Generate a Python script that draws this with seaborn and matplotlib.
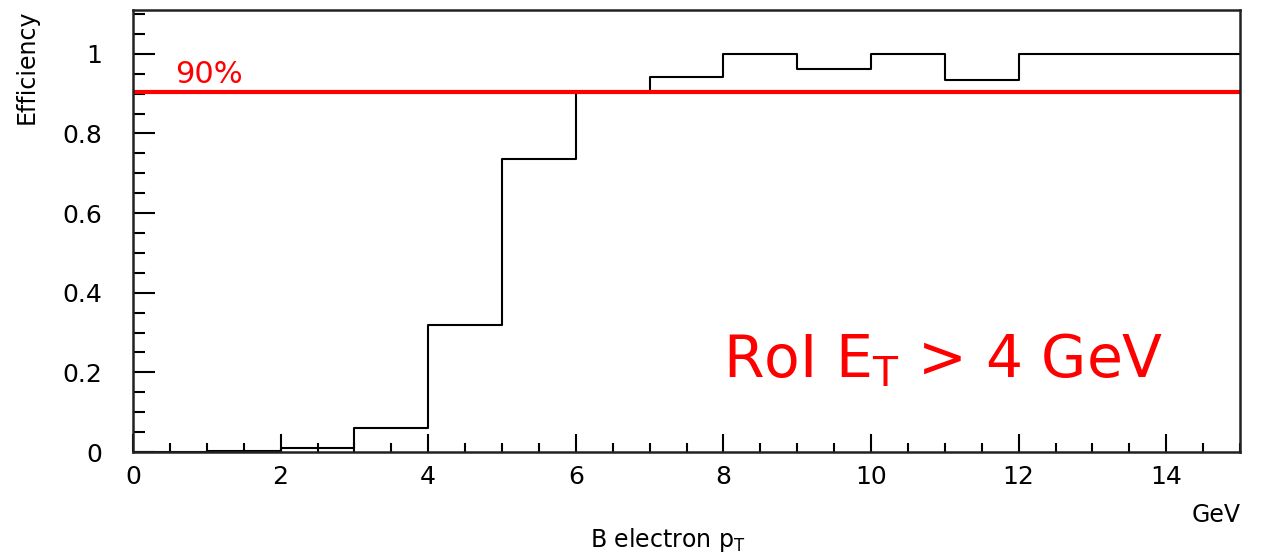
import numpy as np
import pandas as pd
import matplotlib
matplotlib.use('Agg')
import matplotlib.pyplot as plt
import seaborn as sns
from matplotlib.ticker import MultipleLocator

# bin edges (GeV) and efficiency per bin
bin_edges = [0, 1, 2, 3, 4, 5, 6, 7, 8, 9, 10, 11, 12, 13, 14, 15]
efficiency = [0.0, 0.003, 0.01, 0.06, 0.32, 0.735, 0.905, 0.942, 1.0, 0.963, 1.0, 0.935, 1.0, 1.0, 1.0]
threshold = 0.905

sns.set_style('ticks')
plt.rcParams['font.family'] = ['DejaVu Sans']
plt.rcParams['mathtext.default'] = 'regular'

df = pd.DataFrame({'pt': np.array(bin_edges[:-1]) + 0.5, 'eff': efficiency})

fig = plt.figure(figsize=(12.61, 5.53), dpi=100)
ax = fig.add_axes([133 / 1261, 1 - 452 / 553, (1240 - 133) / 1261, (452 - 10) / 553])

sns.histplot(data=df, x='pt', weights='eff', bins=bin_edges, element='step',
             fill=False, color='black', linewidth=1.5, ax=ax)
ax.axhline(threshold, color='#ff0000', linewidth=3)

ax.set_xlim(0, 15)
ax.set_ylim(0, 1.11)
ax.xaxis.set_major_locator(MultipleLocator(2))
ax.xaxis.set_minor_locator(MultipleLocator(0.5))
ax.yaxis.set_minor_locator(MultipleLocator(0.05))
ax.set_yticks([0, 0.2, 0.4, 0.6, 0.8, 1.0])
ax.set_yticklabels(['0', '0.2', '0.4', '0.6', '0.8', '1'])
ax.tick_params(axis='both', which='both', direction='in', colors='black', labelsize=18)
ax.tick_params(axis='x', which='major', length=13, width=1.5, pad=9)
ax.tick_params(axis='x', which='minor', length=6.5, width=1.5)
ax.tick_params(axis='y', which='major', length=16, width=1.5, pad=22)
ax.tick_params(axis='y', which='minor', length=8.5, width=1.5)
for s in ax.spines.values():
    s.set_linewidth(1.8)
    s.set_color('#222222')

ax.set_xlabel('')
ax.set_ylabel('')
fig.text(27 / 1261, 1 - 10 / 553, 'Efficiency', fontsize=17, rotation=90,
         ha='center', va='top', color='black')
fig.text(668 / 1261, 1 - 540 / 553, r'B electron $p_T$', fontsize=17,
         ha='center', va='center', color='black')
fig.text(1241 / 1261, 1 - 515 / 553, 'GeV', fontsize=17, ha='right', va='center', color='black')

ax.text(0.57, 0.926, '90%', color='#ff0000', fontsize=22)
ax.text(8.0, 0.188, r'RoI $E_T$ > 4 GeV', color='#ff0000', fontsize=42)

fig.savefig('out.png', dpi=100)
